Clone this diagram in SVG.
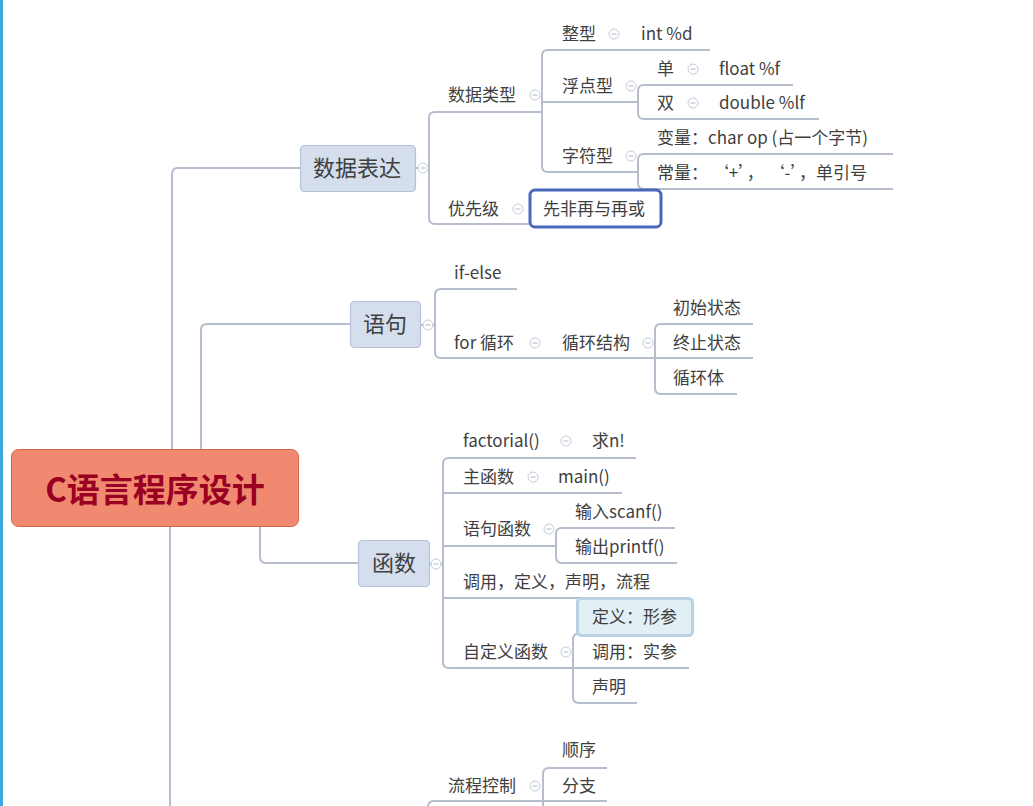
<svg xmlns="http://www.w3.org/2000/svg" width="1033" height="806" viewBox="0 0 1033 806">
<style>
.ln{fill:none;stroke:#b6becd;stroke-width:2}
.t{font-family:"Noto Sans CJK SC","Noto Sans",sans-serif;font-size:17px;fill:#404040}
.m{font-family:"Noto Sans CJK SC","Noto Sans",sans-serif;font-size:22px;fill:#404040}
.mn{fill:#d4deed;stroke:#b4c1d6;stroke-width:1.2}
.c{fill:#fff;stroke:#c4cad6;stroke-width:1}
</style>
<defs>
<g id="col"><circle r="5" class="c"/><line x1="-2.5" y1="0" x2="2.5" y2="0" stroke="#b0b6c4" stroke-width="1"/></g>
</defs>
<rect x="0" y="0" width="1033" height="806" fill="#fff"/>
<rect x="0" y="0" width="3" height="806" fill="#3aa9df"/>
<g id="connectors">
<path class="ln" d="M172,449 V174 Q172,168 178,168 H300"/>
<path class="ln" d="M201,449 V330 Q201,324 207,324 H350"/>
<path class="ln" d="M260,526 V557 Q260,563 266,563 H358"/>
<path class="ln" d="M170,526 V806"/>
<path class="ln" d="M416,168 H429"/>
<path class="ln" d="M541,112 H435 Q429,112 429,118 V218 Q429,224 435,224 H530"/>
<path class="ln" d="M710,50 H548 Q542,50 542,56 V166 Q542,172 548,172 H638"/>
<path class="ln" d="M542,102 H638"/>
<path class="ln" d="M793,85 H644 Q638,85 638,91 V113 Q638,119 644,119 H819"/>
<path class="ln" d="M893,154 H644 Q638,154 638,160 V183 Q638,189 644,189 H893"/>
<path class="ln" d="M421,325 H435"/>
<path class="ln" d="M517,289 H441 Q435,289 435,295 V352 Q435,358 441,358 H655"/>
<path class="ln" d="M753,324 H661 Q655,324 655,330 V388 Q655,394 661,394 H737"/>
<path class="ln" d="M655,358 H753"/>
<path class="ln" d="M430,564 H443"/>
<path class="ln" d="M636,458 H449 Q443,458 443,464 V662 Q443,668 449,668 H573"/>
<path class="ln" d="M443,493 H622"/>
<path class="ln" d="M443,546 H556"/>
<path class="ln" d="M443,598 H655"/>
<path class="ln" d="M675,528 H562 Q556,528 556,534 V557 Q556,563 562,563 H677"/>
<path class="ln" d="M580,633 Q573,633 573,640 V697 Q573,703 579,703 H637"/>
<path class="ln" d="M573,668 H689"/>
<path class="ln" d="M428,806 V807 Q428,801 434,801 H607"/>
<path class="ln" d="M607,768 H549 Q543,768 543,774 V806"/>
</g>
<g id="root">
<rect x="11.5" y="449.5" width="287" height="77" rx="7" fill="#f0896f" stroke="#d4644e" stroke-width="1"/>
<text x="155" y="502" text-anchor="middle" font-family="'Noto Sans CJK SC','Noto Sans',sans-serif" font-size="33" font-weight="bold" fill="#990021">C语言程序设计</text>
</g>
<g id="n-sjbd">
<rect class="mn" x="300.5" y="145.5" width="115" height="46" rx="4"/>
<text class="m" x="313" y="176">数据表达</text>
<use href="#col" x="423" y="168"/>
</g>
<g id="n-yj">
<rect class="mn" x="350.5" y="301.5" width="70" height="46" rx="4"/>
<text class="m" x="363" y="332">语句</text>
<use href="#col" x="428" y="325"/>
</g>
<g id="n-hs">
<rect class="mn" x="358.5" y="540.5" width="71" height="46" rx="4"/>
<text class="m" x="372" y="571">函数</text>
<use href="#col" x="436" y="564"/>
</g>
<g id="n-sjlx"><text class="t" x="448" y="101">数据类型</text><use href="#col" x="535" y="95"/></g>
<g id="n-zx"><text class="t" x="562" y="40">整型</text><use href="#col" x="614" y="34"/></g>
<g id="n-int"><text class="t" x="641" y="40">int %d</text></g>
<g id="n-fdx"><text class="t" x="562" y="92">浮点型</text><use href="#col" x="631" y="86"/></g>
<g id="n-dan"><text class="t" x="657" y="75">单</text><use href="#col" x="693" y="69"/></g>
<g id="n-float"><text class="t" x="719" y="75">float %f</text></g>
<g id="n-shuang"><text class="t" x="657" y="109">双</text><use href="#col" x="693" y="103"/></g>
<g id="n-double"><text class="t" x="719" y="109">double %lf</text></g>
<g id="n-zfx"><text class="t" x="562" y="162">字符型</text><use href="#col" x="631" y="156"/></g>
<g id="n-bl"><text class="t" x="657" y="144">变量：char op (占一个字节)</text></g>
<g id="n-cl"><text class="t" x="657" y="179">常量：  ‘+’，  ‘-’，单引号</text></g>
<g id="n-yxj"><text class="t" x="448" y="215">优先级</text><use href="#col" x="518" y="209"/></g>
<g id="n-xf">
<rect x="530" y="190" width="131" height="37" rx="5" fill="#fff" stroke="#4868bd" stroke-width="3"/>
<text class="t" x="543" y="215">先非再与再或</text>
</g>
<g id="n-ifelse"><text class="t" x="454" y="279">if-else</text></g>
<g id="n-for"><text class="t" x="454" y="349">for 循环</text><use href="#col" x="535" y="343"/></g>
<g id="n-xhjg"><text class="t" x="562" y="349">循环结构</text><use href="#col" x="648" y="343"/></g>
<g id="n-cszt"><text class="t" x="673" y="314">初始状态</text></g>
<g id="n-zzzt"><text class="t" x="673" y="349">终止状态</text></g>
<g id="n-xht"><text class="t" x="673" y="384">循环体</text></g>
<g id="n-fact"><text class="t" x="463" y="447">factorial()</text><use href="#col" x="566" y="441"/></g>
<g id="n-qn"><text class="t" x="592" y="447">求n!</text></g>
<g id="n-zhs"><text class="t" x="463" y="483">主函数</text><use href="#col" x="533" y="477"/></g>
<g id="n-main"><text class="t" x="558" y="483">main()</text></g>
<g id="n-yjhs"><text class="t" x="463" y="535">语句函数</text><use href="#col" x="549" y="529"/></g>
<g id="n-scanf"><text class="t" x="575" y="518">输入scanf()</text></g>
<g id="n-printf"><text class="t" x="575" y="553">输出printf()</text></g>
<g id="n-dy"><text class="t" x="463" y="588">调用，定义，声明，流程</text></g>
<g id="n-zdy"><text class="t" x="463" y="658">自定义函数</text><use href="#col" x="566" y="652"/></g>
<g id="n-xc">
<rect x="577.5" y="598.5" width="115" height="37" rx="4" fill="#e2eff5" stroke="#bad1e3" stroke-width="3"/>
<text class="t" x="592" y="623">定义：形参</text>
</g>
<g id="n-sc"><text class="t" x="592" y="658">调用：实参</text></g>
<g id="n-sm"><text class="t" x="592" y="693">声明</text></g>
<g id="n-lckz"><text class="t" x="448" y="792">流程控制</text><use href="#col" x="535" y="786"/></g>
<g id="n-sx"><text class="t" x="562" y="756">顺序</text></g>
<g id="n-fz"><text class="t" x="562" y="792">分支</text></g>
</svg>
